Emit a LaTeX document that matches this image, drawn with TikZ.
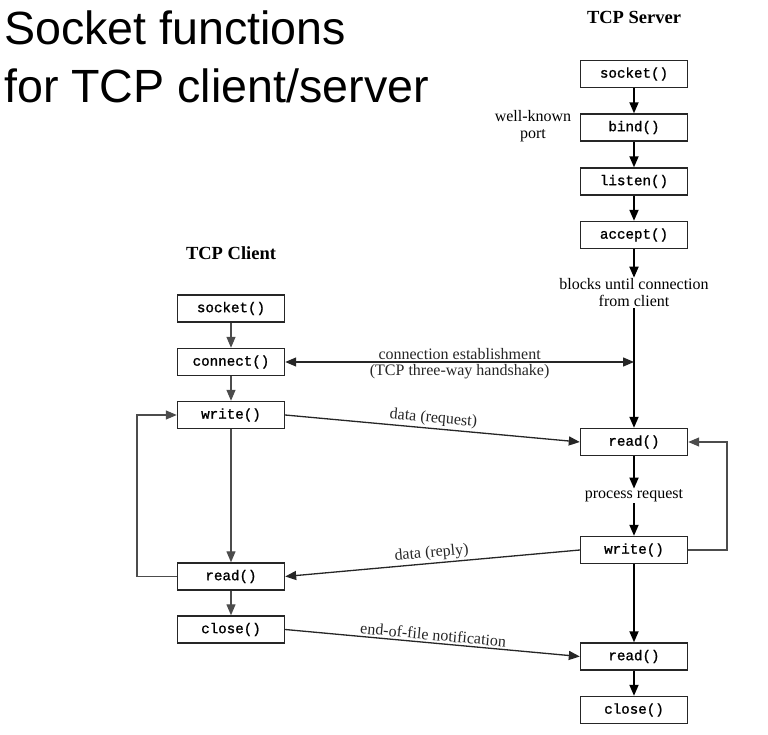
\documentclass[tikz,border=0pt]{standalone}
\usepackage{fontspec}
\setmainfont{Liberation Serif}
\newfontfamily\titlefont{Liberation Sans}
\newfontfamily\codefont[FakeBold=1.2]{Liberation Mono}
\usetikzlibrary{arrows.meta}
\begin{document}
\begin{tikzpicture}[x=1pt,y=-1pt,
  fbox/.style={draw=black!85, line width=1.4pt, minimum width=107pt, minimum height=27pt, inner sep=0pt, font=\codefont\fontsize{14.2}{16}\selectfont},
  lbl/.style={font=\fontsize{16}{17}\selectfont, align=center, inner sep=1pt},
  hdr/.style={font=\bfseries\fontsize{18.5}{20}\selectfont, inner sep=0pt},
  tip/.style={-{Triangle[length=11pt,width=9pt]}},
  srv/.style={tip, line width=1.8pt, black},
  cli/.style={tip, line width=1.2pt, black!70},
  msg/.style={line width=1.3pt, black!85},
]
\useasboundingbox (0,0) rectangle (768,735);

% title
\node[anchor=base west, inner sep=0pt, font=\titlefont\fontsize{46.6}{58}\selectfont] (t1) at (4,45) {Socket functions};
\node[anchor=base west, inner sep=0pt, font=\titlefont\fontsize{46.6}{58}\selectfont] (t2) at (4,103) {for TCP client/server};

% headers
\node[hdr] (hs) at (634,17) {TCP Server};
\node[hdr] (hc) at (231,253) {TCP Client};

% server boxes
\node[fbox] (sSocket) at (634,74) {socket()};
\node[fbox] (sBind) at (634,127.5) {bind()};
\node[fbox] (sListen) at (634,181.5) {listen()};
\node[fbox] (sAccept) at (634,235) {accept()};
\node[fbox] (sRead) at (634,442) {read()};
\node[fbox] (sWrite) at (634,550) {write()};
\node[fbox] (sRead2) at (634,656.5) {read()};
\node[fbox] (sClose) at (634,710) {close()};

% client boxes
\node[fbox] (cSocket) at (231,308.5) {socket()};
\node[fbox] (cConnect) at (231,362) {connect()};
\node[fbox] (cWrite) at (231,415) {write()};
\node[fbox] (cRead) at (231,576.5) {read()};
\node[fbox] (cClose) at (231,629.5) {close()};

% server labels
\node[lbl] (wk) at (533,126.5) {well-known\\port};
\node[lbl] (blk) at (634,293) {blocks until connection\\from client};
\node[lbl] (proc) at (634,496) {process request};

% server flow
\draw[srv] (sSocket) -- (sBind);
\draw[srv] (sBind) -- (sListen);
\draw[srv] (sListen) -- (sAccept);
\draw[srv] (sAccept.south) -- (blk.north);
\draw[srv] (blk.south) -- (sRead.north);
\draw[srv] (sRead.south) -- (proc.north);
\draw[srv] (proc.south) -- (sWrite.north);
\draw[srv] (sWrite.south) -- (sRead2.north);
\draw[srv] (sRead2.south) -- (sClose.north);
\coordinate (loopR) at (727,0);
\draw[cli] (sWrite.east) -| (loopR |- sRead.east) -- (sRead.east);

% client flow
\draw[cli] (cSocket) -- (cConnect);
\draw[cli] (cConnect) -- (cWrite);
\draw[cli] (cWrite) -- (cRead);
\draw[cli] (cRead) -- (cClose);
\coordinate (loopL) at (137,0);
\draw[cli] (cRead.west) -| (loopL |- cWrite.west) -- (cWrite.west);

% messages
\coordinate (hs3) at (634,362);
\draw[msg, {Triangle[length=11pt,width=9pt]}-{Triangle[length=11pt,width=9pt]}] (cConnect.east) -- (hs3)
  node[lbl, midway, above=1pt] (ce) {connection establishment}
  node[lbl, midway, below=1pt] (tw) {(TCP three-way handshake)};
\draw[msg, tip] (cWrite.east) -- (sRead.west)
  node[lbl, midway, above=1pt, sloped] (dreq) {data (request)};
\draw[msg, tip] (sWrite.west) -- (cRead.east)
  node[lbl, midway, above=1pt, sloped] (drep) {data (reply)};
\draw[msg, tip] (cClose.east) -- (sRead2.west)
  node[lbl, midway, above=1pt, sloped] (eof) {end-of-file notification};
\end{tikzpicture}
\end{document}
